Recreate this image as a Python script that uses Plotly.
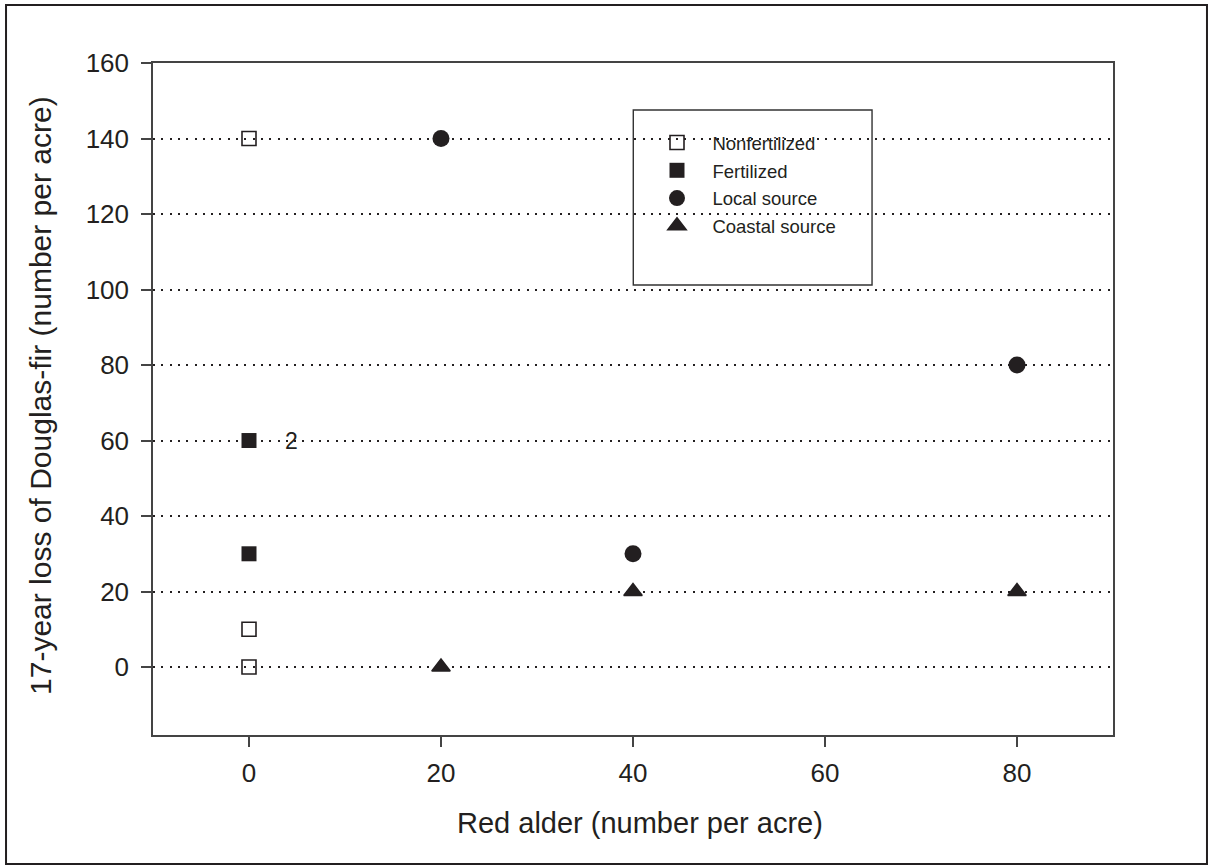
import plotly.graph_objects as go

# ---- data ----
nonfert_x = [0, 0, 0]
nonfert_y = [140, 10, 0]
fert_x = [0, 0]
fert_y = [60, 30]
local_x = [20, 40, 80]
local_y = [140, 30, 80]
coastal_x = [20, 40, 80]
coastal_y = [0, 20, 20]

x_ticks = [0, 20, 40, 60, 80]
y_ticks = [0, 20, 40, 60, 80, 100, 120, 140, 160]

note_text = "2"
note_x = 4.4
note_y = 60

INK = "#231f20"
FONT = "Liberation Sans, Arial, Helvetica, sans-serif"
SP = "\u00a0\u00a0\u00a0"

fig = go.Figure()
fig.add_trace(go.Scatter(x=nonfert_x, y=nonfert_y, mode="markers", name=SP + "Nonfertilized",
                         legendgroup="a",
                         marker=dict(symbol="square-open", size=14, color=INK, line=dict(width=1.6, color=INK))))
fig.add_trace(go.Scatter(x=fert_x, y=fert_y, mode="markers", name=SP + "Fertilized",
                         legendgroup="b",
                         marker=dict(symbol="square", size=15, color=INK)))
fig.add_trace(go.Scatter(x=local_x, y=local_y, mode="markers", name=SP + "Local source",
                         legendgroup="c",
                         marker=dict(symbol="circle", size=17, color=INK)))
fig.add_trace(go.Scatter(x=coastal_x, y=coastal_y, mode="markers", name=SP + "Coastal source",
                         legendgroup="d",
                         marker=dict(symbol="triangle-up", size=16, color=INK, line=dict(width=1.5, color=INK))))

fig.add_annotation(x=note_x, y=note_y, xref="x", yref="y", text=note_text, showarrow=False,
                   font=dict(size=23, color=INK, family=FONT), xanchor="center", yanchor="middle")

# axis titles
fig.add_annotation(x=0.5068, y=-0.131, xref="paper", yref="paper",
                   text="Red alder (number per acre)", showarrow=False,
                   font=dict(size=29, color=INK, family=FONT), xanchor="center", yanchor="middle")
fig.add_annotation(x=-0.1167, y=0.506, xref="paper", yref="paper",
                   text="17-year loss of Douglas-fir (number per acre)", showarrow=False, textangle=-90,
                   font=dict(size=30, color=INK, family=FONT), xanchor="center", yanchor="middle")

# outer frame
fig.add_shape(type="rect", xref="paper", yref="paper", x0=-0.1531, x1=1.0979, y0=-0.192, y1=1.0863,
              line=dict(color=INK, width=2), fillcolor="rgba(0,0,0,0)", layer="above")
# legend box
fig.add_shape(type="rect", xref="paper", yref="paper", x0=0.5003, x1=0.749, y0=0.6696, y1=0.930,
              line=dict(color="#333333", width=1.4), fillcolor="white", layer="between")

fig.update_layout(
    width=1209, height=865,
    margin=dict(l=153, r=96, t=63, b=130),
    paper_bgcolor="white", plot_bgcolor="white",
    font=dict(family=FONT, color=INK),
    showlegend=True,
    legend=dict(x=0.525, y=0.9092, xanchor="left", yanchor="top",
                bgcolor="rgba(0,0,0,0)", borderwidth=0,
                font=dict(size=18.5, color=INK, family=FONT),
                traceorder="grouped", tracegroupgap=0.7),
    xaxis=dict(range=[-10, 90], tickvals=x_ticks, ticks="outside", ticklen=10, tickwidth=1.5,
               tickcolor="#444", showline=True, linecolor="#444", linewidth=1.5, mirror=True,
               showgrid=False, zeroline=False, ticklabelstandoff=4,
               tickfont=dict(size=26, color=INK, family=FONT)),
    yaxis=dict(range=[-18, 160], tickvals=y_ticks, ticks="outside", ticklen=10, tickwidth=1.5,
               tickcolor="#444", showline=True, linecolor="#444", linewidth=1.5, mirror=True,
               showgrid=True, gridcolor=INK, gridwidth=1.8, griddash="2px,6.3px",
               zeroline=False, ticklabelstandoff=7, tickfont=dict(size=26, color=INK, family=FONT)),
)

fig.write_html("out.html", config={"displayModeBar": False},
               post_script="document.body.style.margin='0';")
